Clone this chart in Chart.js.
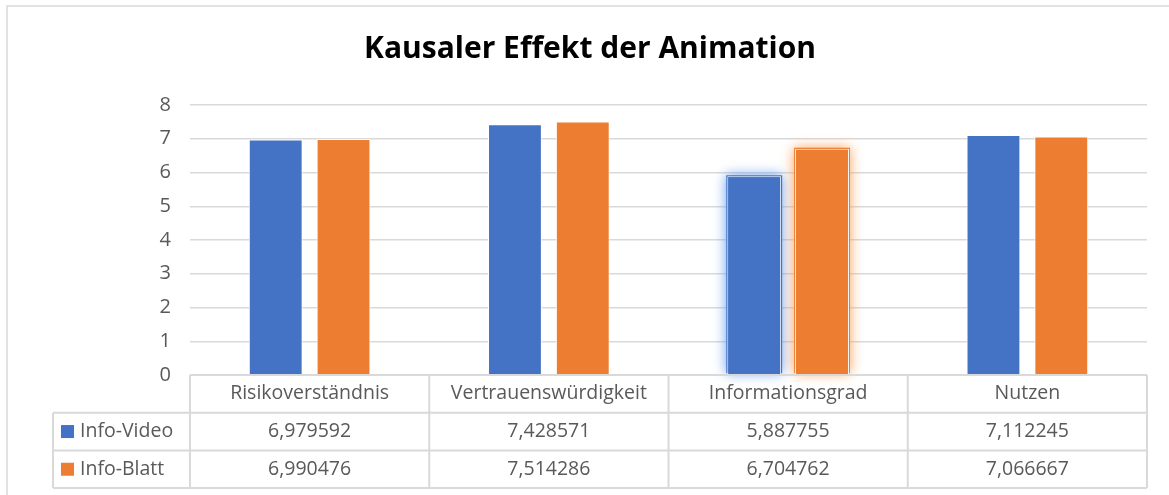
<!DOCTYPE html>
<html>
<head>
<meta charset="utf-8">
<script src="https://cdn.jsdelivr.net/npm/chart.js@4.4.0/dist/chart.umd.min.js"></script>
<style>
  html, body { margin: 0; padding: 0; background: #ffffff; }
  #wrap { width: 1169px; height: 495px; }
</style>
</head>
<body>
<div id="wrap"><canvas id="chart"></canvas></div>
<script>
// ================= DATA =================
var categories = ["Risikoverständnis", "Vertrauenswürdigkeit", "Informationsgrad", "Nutzen"];
var seriesNames = ["Info-Video", "Info-Blatt"];
var infoVideo = [6.979592, 7.428571, 5.887755, 7.112245];
var infoBlatt = [6.990476, 7.514286, 6.704762, 7.066667];
var yTicks = [0, 1, 2, 3, 4, 5, 6, 7, 8];

var blue = "#4472C4";
var orange = "#ED7D31";
var gridColor = "#d9d9d9";
var textColor = "#595959";
var fontFamily = "'Open Sans', 'Liberation Sans', sans-serif";

function zahl(v) {
  return v.toFixed(6).replace(".", ",");
}

// ================= PLUGIN: FRAME + GLOW =================
var framePlugin = {
  id: "frame",
  beforeDraw: function (chart) {
    var ctx = chart.ctx;
    ctx.save();
    ctx.strokeStyle = gridColor;
    ctx.lineWidth = 1.5;
    ctx.strokeRect(7, 6, 1400, 700);
    ctx.restore();
  },
  beforeDatasetsDraw: function (chart) {
    // soft glow around the "Informationsgrad" bars
    var ctx = chart.ctx;
    var glow = ["rgba(110,160,240,1)", "rgba(248,160,90,1)"];
    chart.data.datasets.forEach(function (ds, i) {
      var bar = chart.getDatasetMeta(i).data[2];
      if (!bar) return;
      var p = bar.getProps(["x", "y", "base", "width"], true);
      ctx.save();
      ctx.shadowColor = glow[i];
      ctx.shadowBlur = 12;
      ctx.fillStyle = ds.backgroundColor;
      ctx.fillRect(p.x - p.width / 2 - 1, p.y - 1, p.width + 2, p.base - p.y);
      ctx.restore();
    });
  }
};

// ================= PLUGIN: DATA TABLE =================
var tablePlugin = {
  id: "datatable",
  afterDraw: function (chart) {
    var ctx = chart.ctx;
    var area = chart.chartArea;
    var xs = chart.scales.x;
    var colW = (area.right - area.left) / categories.length;
    var legendLeft = area.left - 137;
    var rowH = 37.7;
    var top = area.bottom;
    var rows = [infoVideo, infoBlatt];
    var colors = [blue, orange];

    ctx.save();
    ctx.strokeStyle = gridColor;
    ctx.lineWidth = 2;
    ctx.beginPath();
    // horizontal lines
    ctx.moveTo(area.left, top); ctx.lineTo(area.right, top);
    for (var r = 1; r <= 3; r++) {
      ctx.moveTo(legendLeft, top + rowH * r);
      ctx.lineTo(area.right, top + rowH * r);
    }
    // vertical lines
    for (var c = 0; c <= categories.length; c++) {
      var vx = area.left + colW * c;
      ctx.moveTo(vx, top); ctx.lineTo(vx, top + rowH * 3);
    }
    ctx.moveTo(legendLeft, top + rowH); ctx.lineTo(legendLeft, top + rowH * 3);
    ctx.stroke();

    ctx.font = "19.5px " + fontFamily;
    ctx.fillStyle = textColor;
    ctx.textBaseline = "middle";
    ctx.textAlign = "center";
    categories.forEach(function (cat, i) {
      ctx.fillText(cat, xs.getPixelForValue(i), top + rowH / 2);
    });
    rows.forEach(function (vals, r) {
      var cy = top + rowH * (r + 1) + rowH / 2;
      vals.forEach(function (v, i) {
        ctx.fillStyle = textColor;
        ctx.textAlign = "center";
        ctx.fillText(zahl(v), xs.getPixelForValue(i), cy);
      });
      ctx.fillStyle = colors[r];
      ctx.fillRect(legendLeft + 8, cy - 6.5, 13, 13);
      ctx.fillStyle = textColor;
      ctx.textAlign = "left";
      ctx.fillText(seriesNames[r], legendLeft + 27, cy);
    });
    ctx.restore();
  }
};

// ================= CHART =================
var ctx = document.getElementById("chart").getContext("2d");
var chart = new Chart(ctx, {
  type: "bar",
  data: {
    labels: categories,
    datasets: [{
      label: seriesNames[0],
      data: infoVideo,
      backgroundColor: blue,
      borderColor: "#ffffff",
      borderWidth: 1
    }, {
      label: seriesNames[1],
      data: infoBlatt,
      backgroundColor: orange,
      borderColor: "#ffffff",
      borderWidth: 1
    }]
  },
  options: {
    responsive: true,
    maintainAspectRatio: false,
    animation: false,
    datasets: {
      bar: { categoryPercentage: 0.567, barPercentage: 0.794 }
    },
    layout: { padding: { left: 33, right: 22, top: 0, bottom: 0 } },
    plugins: {
      legend: { display: false },
      tooltip: { enabled: false },
      title: {
        display: true,
        text: "Kausaler Effekt der Animation",
        color: "#000000",
        font: { family: fontFamily, size: 30, weight: "bold" },
        padding: { top: 31, bottom: 38 }
      }
    },
    scales: {
      x: {
        ticks: { display: false },
        grid: { display: false },
        border: { display: false },
        afterFit: function (s) { s.height = 120; }
      },
      y: {
        min: 0,
        max: 8,
        afterBuildTicks: function (s) {
          s.ticks = yTicks.map(function (v) { return { value: v }; });
        },
        afterFit: function (s) { s.width = 157; },
        ticks: {
          color: textColor,
          padding: 19,
          font: { family: fontFamily, size: 20 }
        },
        grid: { color: gridColor, lineWidth: 1.5, drawTicks: false },
        border: { display: false }
      }
    }
  },
  plugins: [framePlugin, tablePlugin]
});
</script>
</body>
</html>
